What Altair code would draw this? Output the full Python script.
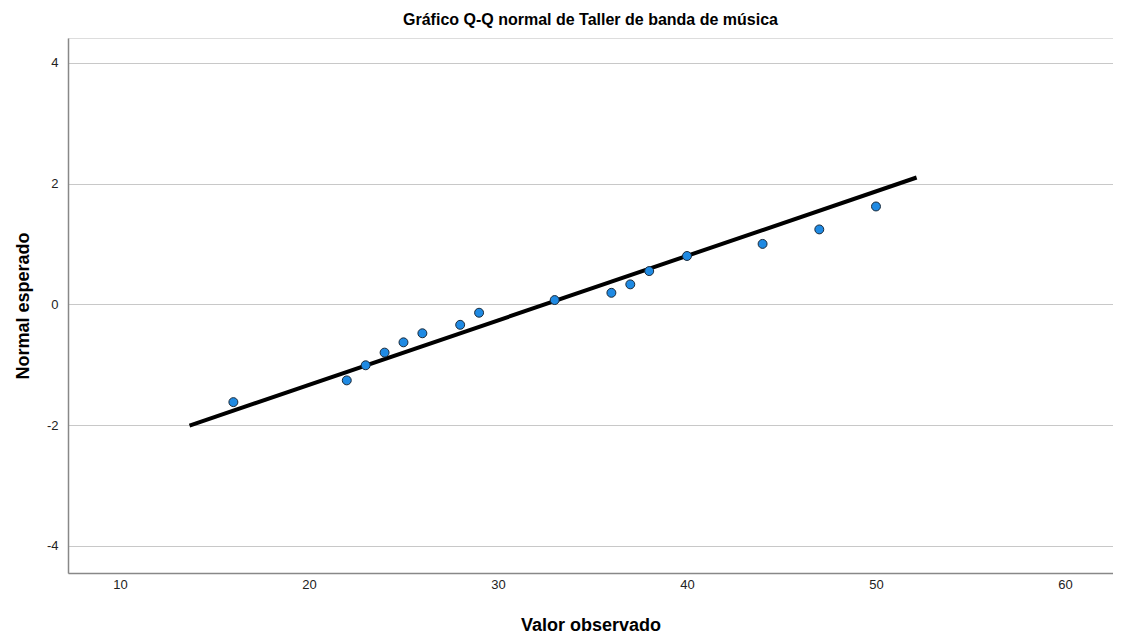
import altair as alt
import pandas as pd

observed = [16, 22, 23, 24, 25, 26, 28, 29, 33, 36, 37, 38, 40, 44, 47, 50]
expected = [-1.62, -1.26, -1.01, -0.80, -0.63, -0.48, -0.34, -0.14,
            0.07, 0.19, 0.33, 0.55, 0.80, 1.00, 1.24, 1.62]
line_x = [13.68, 52.15]
line_y = [-2.01, 2.10]

x_ticks = [10, 20, 30, 40, 50, 60]
y_ticks = [-4, -2, 0, 2, 4]

pts = pd.DataFrame({"x": observed, "y": expected})
ln = pd.DataFrame({"x": line_x, "y": line_y})

FONT = "Liberation Sans"
LABEL_EXPR = "datum.value < 0 ? '-' + abs(datum.value) : '' + datum.value"

xscale = alt.Scale(domain=[7.25, 62.54], nice=False, zero=False)
yscale = alt.Scale(domain=[-4.45, 4.41], nice=False, zero=False)

xaxis = alt.Axis(values=x_ticks, labelExpr=LABEL_EXPR, title="Valor observado", grid=False,
                 ticks=False, labelPadding=5, labelFontSize=13, labelColor="#222",
                 titleFontSize=18, titleFontWeight="bold", titleColor="#000",
                 titlePadding=25, domainColor="#888", domainWidth=1.5,
                 labelFont=FONT, titleFont=FONT)
yaxis = alt.Axis(values=y_ticks, labelExpr=LABEL_EXPR, title="Normal esperado", grid=True,
                 gridColor="#c8c8c8", gridWidth=1, ticks=False, labelPadding=10,
                 labelFontSize=13, labelColor="#222", titleFontSize=18,
                 titleFontWeight="bold", titleColor="#000", titlePadding=14,
                 domainColor="#888", domainWidth=1.5, labelFont=FONT, titleFont=FONT)

line = alt.Chart(ln).mark_line(color="#000", strokeWidth=4).encode(
    x=alt.X("x:Q", scale=xscale, axis=xaxis),
    y=alt.Y("y:Q", scale=yscale, axis=yaxis),
)
points = alt.Chart(pts).mark_point(filled=True, fill="#1f8ae3", stroke="#1a2a3a",
                                   strokeWidth=1, size=80, opacity=1, fillOpacity=1).encode(
    x=alt.X("x:Q", scale=xscale),
    y=alt.Y("y:Q", scale=yscale),
)

chart = alt.layer(line, points).properties(
    width=1045, height=535,
    title=alt.TitleParams("Gráfico Q-Q normal de Taller de banda de música",
                          fontSize=16, fontWeight="bold", font=FONT,
                          color="#000", offset=10),
    autosize=alt.AutoSizeParams(type="none"),
    padding={"left": 60, "top": 30, "right": 0, "bottom": 62},
).configure_view(strokeWidth=0, stroke="transparent").configure(background="white")

chart.save("out.html", embed_options={"renderer": "svg", "actions": False})
